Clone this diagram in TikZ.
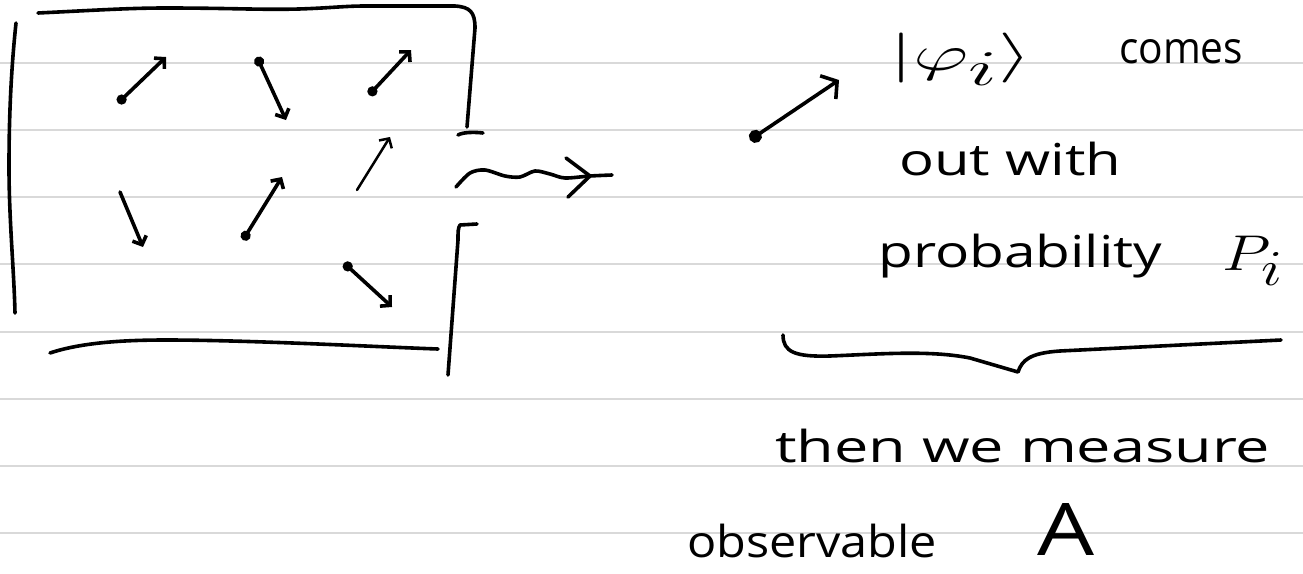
\documentclass[tikz,border=0pt]{standalone}
\usepackage{graphicx}
\usepackage{fontspec}
\newfontfamily\handfont{Open Sans}
\usetikzlibrary{arrows.meta}
\definecolor{rulegray}{HTML}{D9D9D9}
\begin{document}
\begin{tikzpicture}[x=1pt,y=-1pt,
  ink/.style={line width=3.6pt,line cap=round,line join=round,black},
  rule/.style={line width=2pt,color=rulegray},
  vec/.style={ink,-{Straight Barb[length=7pt,width=15pt]}},
  dvec/.style={ink,{Circle[length=10pt]}-{Straight Barb[length=7pt,width=15pt]}},
  bigvec/.style={ink,{Circle[length=13pt]}-{Straight Barb[length=11pt,width=28pt]}},
  hand/.style={font=\handfont\fontsize{44}{52}\selectfont,inner sep=0pt,anchor=base west}]
\useasboundingbox[fill=white] (0,0) rectangle (1303,573);
\foreach \y in {63,130,197,264,332,399,466,533} \draw[rule] (0,\y) -- (1303,\y);
% box
\draw[ink] (38,13) .. controls (100,10) and (130,8) .. (166,8) .. controls (230,8) and (260,10) .. (299,9) .. controls (330,8) and (345,6) .. (365,6) -- (455,6) .. controls (470,7) and (475,12) .. (475,28) -- (467,127);
\draw[ink] (16,23) .. controls (10,80) and (9,130) .. (9,167) .. controls (9,220) and (14,270) .. (15,313);
\draw[ink] (50,353) .. controls (80,343) and (120,340) .. (166,340) .. controls (250,340) and (380,347) .. (438,349);
\draw[ink] (458,135) .. controls (463,132) and (475,132) .. (483,133);
\draw[ink] (477,224) -- (460,225) .. controls (458,228) and (458,232) .. (458,240) -- (448,375);
% wavy outlet
\draw[ink] plot[smooth] coordinates {(456,187) (470,173) (485,170) (505,176) (520,177) (535,171) (550,174) (565,178) (590,176) (612,175)};
\draw[ink] (566,158) -- (590,176) -- (568,197);
% small arrows
\draw[dvec] (118,103) -- (166,57);
\draw[dvec] (257,57) -- (286,120);
\draw[dvec] (369,95) -- (411,50);
\draw[vec,line width=2.5pt] (357,190) -- (390,137);
\draw[vec] (120,192) -- (143,247);
\draw[dvec] (243,240) -- (282,177);
\draw[dvec] (344,263) -- (392,307);
% outgoing state
\draw[bigvec] (750,140) -- (839,80);
% brace
\draw[ink] (783,335) .. controls (783,352) and (795,357) .. (830,356) .. controls (880,354) and (930,350) .. (970,358) -- (1018,372) .. controls (1022,360) and (1030,353) .. (1060,351) -- (1281,340);
% texts
\node[hand] (ket) at (889,70) {\resizebox*{143pt}{53pt}{$|\varphi_i\rangle$}};
\node[hand] (comes) at (1119,63) {\resizebox{124pt}{\height}{comes}};
\node[hand] (outwith) at (899,175) {\resizebox{222pt}{\height}{out with}};
\node[hand] (prob) at (878,267) {\resizebox{284pt}{\height}{probability}};
\node[hand] (P) at (1222,270) {\resizebox*{62pt}{50pt}{$P_i$}};
\node[hand] (then) at (775,462) {\resizebox{495pt}{\height}{then we measure}};
\node[hand] (obs) at (687,557) {\resizebox{250pt}{\height}{observable}};
\node[hand] (A) at (1037,555) {\resizebox{57pt}{52pt}{A}};
\end{tikzpicture}
\end{document}
